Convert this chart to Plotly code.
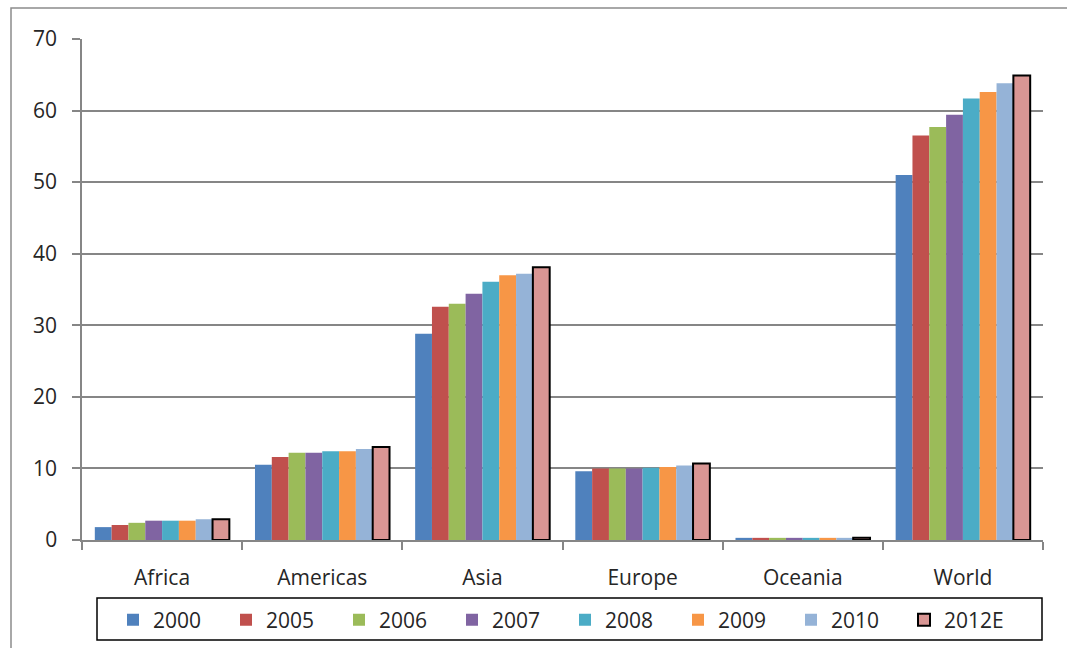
import plotly.graph_objects as go

regions = ["Africa", "Americas", "Asia", "Europe", "Oceania", "World"]
years = ["2000", "2005", "2006", "2007", "2008", "2009", "2010", "2012E"]

v2000 = [1.8, 10.5, 28.8, 9.6, 0.3, 51.0]
v2005 = [2.1, 11.6, 32.6, 10.0, 0.3, 56.5]
v2006 = [2.4, 12.2, 33.0, 10.0, 0.3, 57.7]
v2007 = [2.7, 12.2, 34.4, 10.0, 0.3, 59.4]
v2008 = [2.7, 12.4, 36.1, 10.1, 0.3, 61.7]
v2009 = [2.7, 12.4, 37.0, 10.2, 0.3, 62.6]
v2010 = [2.9, 12.7, 37.2, 10.4, 0.3, 63.8]
v2012e = [2.9, 13.0, 38.1, 10.7, 0.3, 64.9]

series = [v2000, v2005, v2006, v2007, v2008, v2009, v2010, v2012e]
colors = ["#4F81BD", "#C0504D", "#9BBB59", "#8064A2", "#4BACC6",
          "#F79646", "#95B3D7", "#D99694"]

fig = go.Figure()
for name, vals, col in zip(years, series, colors):
    outlined = name == "2012E"
    fig.add_trace(go.Bar(
        x=regions, y=vals, name=name,
        marker=dict(color=col,
                    line=dict(color="#000000" if outlined else col,
                              width=2 if outlined else 0)),
    ))

W, H = 1067, 648
L, R, T, B = 82, 24, 39, 108
pw, ph = W - L - R, H - T - B

def px_x(p):
    return (p - L) / pw

def px_y(p):
    return (H - B - p) / ph

font = "Open Sans, Segoe UI, DejaVu Sans, sans-serif"

fig.update_layout(
    width=W, height=H,
    margin=dict(l=L, r=R, t=T, b=B, autoexpand=False),
    paper_bgcolor="white", plot_bgcolor="white",
    barmode="group", bargap=0.16, bargroupgap=0,
    font=dict(family=font, size=21, color="#262626"),
    showlegend=True,
    legend=dict(
        orientation="h",
        x=px_x(113), xanchor="left",
        y=px_y(620), yanchor="middle",
        borderwidth=0, bgcolor="rgba(0,0,0,0)",
        font=dict(size=21),
        entrywidth=68, entrywidthmode="pixels",
        traceorder="normal",
    ),
    xaxis=dict(
        showline=True, linecolor="#868686", linewidth=1.5,
        ticks="outside", tickson="boundaries", ticklen=8,
        tickcolor="#868686", tickwidth=1.5,
        ticklabelstandoff=18, automargin=False,
        showgrid=False, fixedrange=True,
    ),
    yaxis=dict(
        range=[0, 70], dtick=10,
        showline=True, linecolor="#868686", linewidth=1.5,
        ticks="outside", ticklen=8, tickcolor="#868686", tickwidth=1.5,
        showgrid=True, gridcolor="#868686", gridwidth=1.5,
        zeroline=False, ticksuffix="  ", automargin=False,
    ),
    shapes=[
        # outer chart frame
        dict(type="rect", xref="paper", yref="paper",
             x0=px_x(11), x1=px_x(1075), y0=px_y(660), y1=px_y(8),
             line=dict(color="#8C8C8C", width=1.5), layer="below"),
        # legend frame
        dict(type="rect", xref="paper", yref="paper",
             x0=px_x(97), x1=px_x(1042), y0=px_y(640), y1=px_y(598),
             line=dict(color="#000000", width=1.5), layer="below"),
    ],
)

fig.write_html("out.html")
